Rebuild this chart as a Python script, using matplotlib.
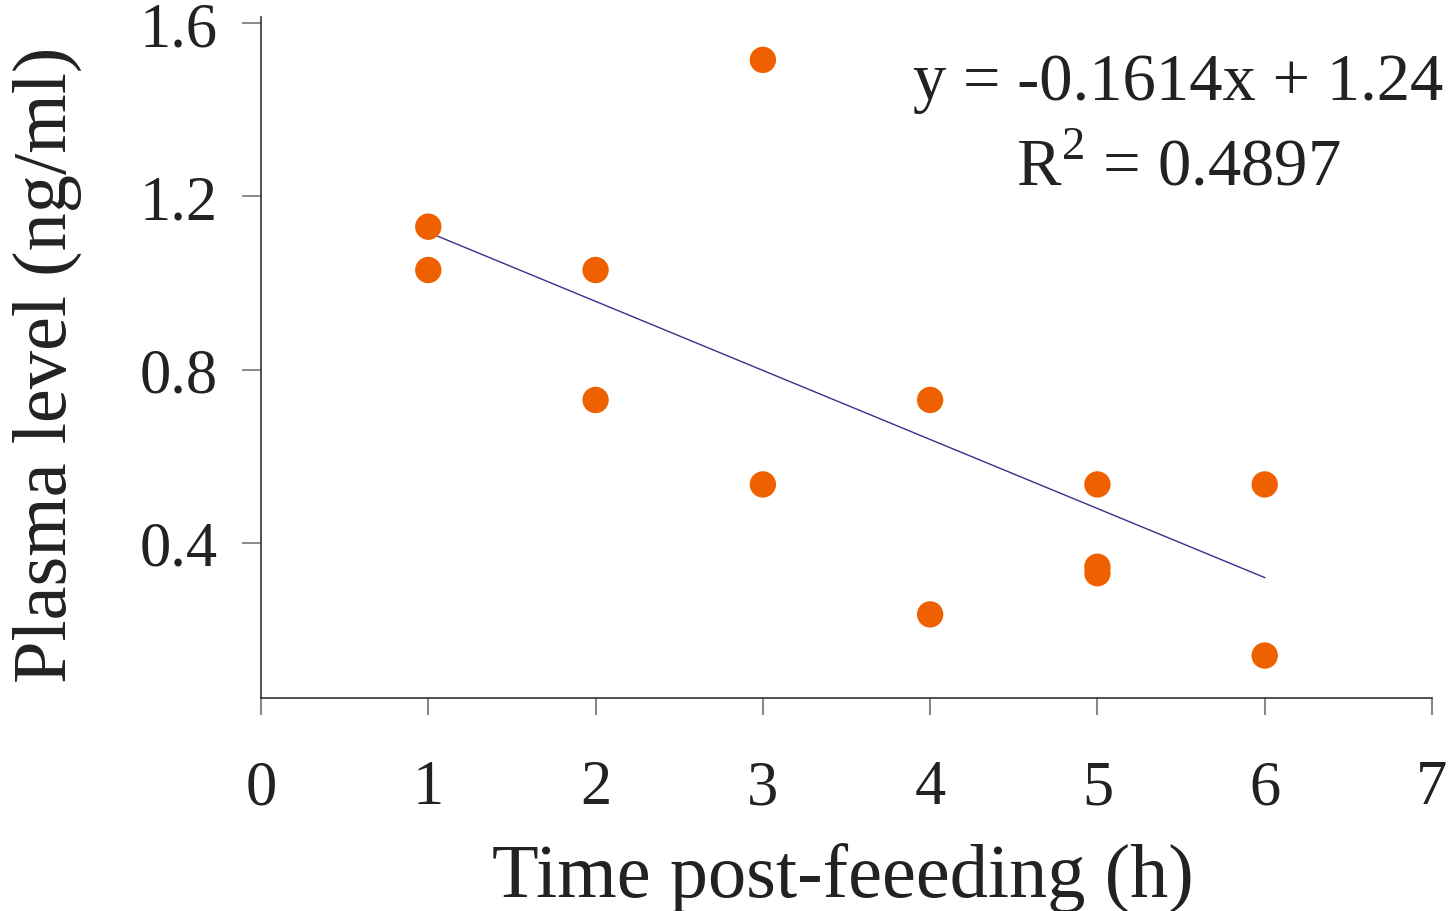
import matplotlib
matplotlib.use('Agg')
import numpy as np
import matplotlib.pyplot as plt

# time post-feeding (h) and plasma level (ng/ml)
time_h = [1, 1, 2, 2, 3, 3, 4, 4, 5, 5, 5, 6, 6]
plasma = [1.13, 1.03, 1.03, 0.73, 1.515, 0.535, 0.73, 0.235, 0.535, 0.345, 0.33, 0.535, 0.14]

# trendline end points as drawn
trend_x = [1, 6]
trend_y = [1.117, 0.32]

x_ticks = [0, 1, 2, 3, 4, 5, 6, 7]
y_ticks = [0.4, 0.8, 1.2, 1.6]
y_tick_labels = ['0.4', '0.8', '1.2', '1.6']

plt.rcParams['font.family'] = ['Liberation Serif', 'DejaVu Serif']
plt.rcParams['mathtext.fontset'] = 'custom'
plt.rcParams['mathtext.rm'] = 'Liberation Serif'

fig = plt.figure(figsize=(14.5, 9.12), dpi=100)
ax = fig.add_axes([261/1450, 1-699/912, 1171/1450, 681/912])

ax.plot(trend_x, trend_y, color='#3b2f8c', lw=1.0, zorder=2)
ax.scatter(time_h, plasma, s=360, color='#ee6000', edgecolors='none', zorder=3)

ax.set_xlim(0, 7)
ax.set_ylim(0.042, 1.614)
ax.set_xticks(x_ticks)
ax.set_yticks(y_ticks)
ax.set_yticklabels(y_tick_labels)

for s in ['top', 'right']:
    ax.spines[s].set_visible(False)
for s in ['left', 'bottom']:
    ax.spines[s].set_color('#333333')
    ax.spines[s].set_linewidth(1.2)

ax.tick_params(axis='y', direction='out', length=14, width=1.2, color='#777777',
               labelsize=45, pad=17, labelcolor='#222222')
ax.tick_params(axis='x', direction='out', length=12, width=1.5, color='#888888',
               labelsize=45, pad=32, labelcolor='#222222')

fig.text(1178/1450, 1-100/912, 'y = -0.1614x + 1.24', ha='center', va='baseline',
         fontsize=48, color='#222222')
fig.text(1178/1450, 1-185/912, r'R$^2$ = 0.4897', ha='center', va='baseline',
         fontsize=48, color='#222222')

fig.text(843/1450, 1-898/912, 'Time post-feeeding (h)', ha='center', va='baseline',
         fontsize=55, color='#222222')
fig.text(47/1450, 1-365/912, 'Plasma level (ng/ml)', ha='center', va='center',
         rotation=90, fontsize=55, color='#222222')

plt.savefig('out.png', dpi=100)
